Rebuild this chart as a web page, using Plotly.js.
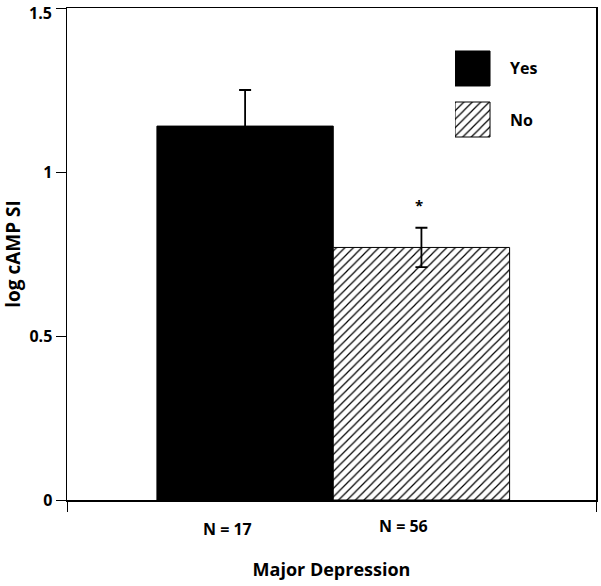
<!DOCTYPE html>
<html>
<head>
<meta charset="utf-8">
<script src="https://cdn.plot.ly/plotly-3.0.1.min.js"></script>
<style>html,body{margin:0;padding:0;background:#fff;}#chart{width:601px;height:586px;}</style>
</head>
<body>
<div id="chart"></div>
<script>
// ---- data ----
const groups = ["Yes", "No"];
const groupPos = [0, 1];
const nLabels = ["N = 17", "N = 56"];
const means = [1.14, 0.77];
const sems = [0.11, 0.06];
const sigMarks = ["", "*"];
const yTicks = [0, 0.5, 1, 1.5];
const yTickText = ["0", "0.5", "1", "1.5"];

const FONT = "Open Sans, Liberation Sans, sans-serif";
const fills = ["#000000", "#ffffff"];
const shapesP = ["", "/"];

function markerFor(i) {
  return {
    color: fills[i],
    line: {color: "#000", width: 1},
    pattern: {shape: shapesP[i], fgcolor: "#000", bgcolor: "#fff", size: 6, solidity: 0.2, fillmode: "replace"}
  };
}

const traces = groups.map((g, i) => ({
  type: "bar",
  x: [groupPos[i]],
  y: [means[i]],
  width: 1,
  name: g,
  showlegend: false,
  marker: markerFor(i),
  error_y: {type: "data", array: [sems[i]], visible: true, color: "#000", thickness: 1.8, width: 6}
}));

// legend boxes drawn as bars on a small auxiliary axis
groups.forEach((g, i) => {
  traces.push({
    type: "bar",
    orientation: "h",
    y: [i],
    x: [1],
    width: 0.686,
    xaxis: "x2",
    yaxis: "y2",
    name: g,
    showlegend: false,
    hoverinfo: "skip",
    marker: markerFor(i)
  });
});

const annotations = [];
const nY = [-0.058, -0.052];
groupPos.forEach((p, i) => {
  annotations.push({
    x: p - 0.1, y: nY[i], xref: "x", yref: "paper", yanchor: "middle",
    text: "<b>" + nLabels[i] + "</b>", showarrow: false,
    font: {family: FONT, size: 16, color: "#000"}
  });
  if (sigMarks[i]) {
    annotations.push({
      x: p - 0.015, y: means[i] + sems[i] + 0.07, xref: "x", yref: "y",
      text: "<b>" + sigMarks[i] + "</b>", showarrow: false,
      font: {family: FONT, size: 15, color: "#000"}
    });
  }
});
groups.forEach((g, i) => {
  annotations.push({
    x: 1.5, y: i, xref: "x2", yref: "y2", xanchor: "left", yanchor: "middle",
    text: "<b>" + g + "</b>", showarrow: false,
    font: {family: FONT, size: 16, color: "#000"}
  });
});

// the top tick label sits at the very top edge: draw it as a top-anchored label so it stays inside the page
const lastIdx = yTicks.length - 1;
const tickTextShown = yTickText.map((t, i) => (i === lastIdx ? "" : t));
annotations.push({
  x: 0, xref: "paper", xanchor: "right", xshift: -13,
  y: 1, yref: "paper", yanchor: "top", yshift: 8,
  text: "<b>" + yTickText[lastIdx] + "</b>", showarrow: false,
  font: {family: FONT, size: 16, color: "#000"}
});

const layout = {
  width: 601, height: 586,
  margin: {l: 67, r: 5, t: 8, b: 86},
  paper_bgcolor: "#fff", plot_bgcolor: "#fff",
  bargap: 0,
  xaxis: {
    range: [-1.01, 1.99], tickvals: [-1.01, 1.99], ticktext: ["", ""],
    ticks: "outside", ticklen: 10, tickcolor: "#000", tickwidth: 1,
    showline: true, linecolor: "#000", linewidth: 1.5, mirror: true,
    showgrid: false, zeroline: false, fixedrange: true,
    title: {text: "<b>Major Depression</b>", font: {family: FONT, size: 18, color: "#000"}, standoff: 50}
  },
  yaxis: {
    range: [0, 1.5], tickvals: yTicks, ticktext: tickTextShown,
    ticks: "outside", ticklen: 10, tickcolor: "#000", tickwidth: 1,
    showline: true, linecolor: "#000", linewidth: 1.5, mirror: true,
    showgrid: false, zeroline: false,
    tickfont: {family: FONT, size: 16, color: "#000", weight: "bold"},
    title: {text: "<b>log cAMP SI</b>", font: {family: FONT, size: 19, color: "#000"}, standoff: 11}
  },
  xaxis2: {domain: [0.7335, 0.932], range: [0, 3], visible: false, anchor: "y2", fixedrange: true},
  yaxis2: {domain: [0.7215, 0.9289], range: [1.5, -0.5], autorange: false, visible: false, anchor: "x2", fixedrange: true},
  annotations: annotations,
  showlegend: false
};

Plotly.newPlot("chart", traces, layout, {displayModeBar: false, staticPlot: true});
</script>
</body>
</html>
